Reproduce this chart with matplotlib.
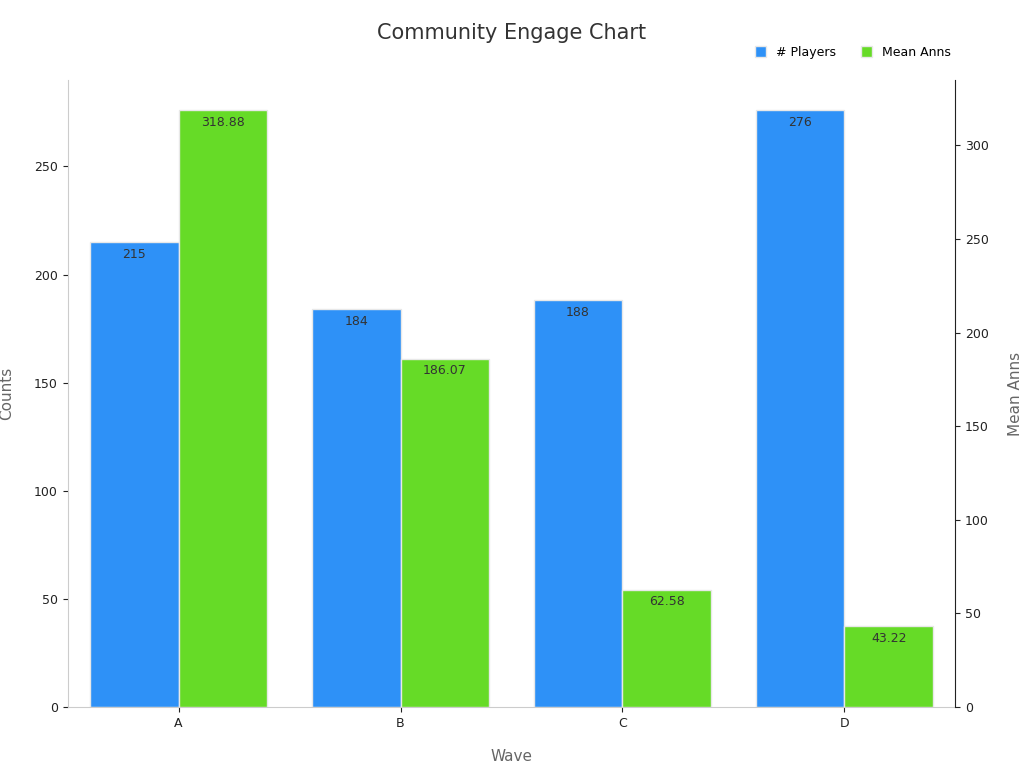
import matplotlib.pyplot as plt
import numpy as np

waves = ["A", "B", "C", "D"]
players = [215, 184, 188, 276]
mean_anns = [318.88, 186.07, 62.58, 43.22]

blue = "#2E91F7"
green = "#66DB27"

fig = plt.figure(figsize=(10.24, 7.68), dpi=100)
ax = fig.add_axes([0.066, 0.0794, 0.867, 0.8166])
ax2 = ax.twinx()

x = np.arange(len(waves))
w = 0.4
b1 = ax.bar(x - w / 2, players, w, color=blue, edgecolor="#e8e8e8", linewidth=1, label="# Players")
b2 = ax2.bar(x + w / 2, mean_anns, w, color=green, edgecolor="#e8e8e8", linewidth=1, label="Mean Anns")

for rect, v in zip(b1, players):
    ax.annotate(f"{v}", (rect.get_x() + rect.get_width() / 2, v), xytext=(0, -4),
                textcoords="offset points", ha="center", va="top", fontsize=9, color="#333333")
for rect, v in zip(b2, mean_anns):
    ax2.annotate(f"{v:.2f}", (rect.get_x() + rect.get_width() / 2, v), xytext=(0, -4),
                 textcoords="offset points", ha="center", va="top", fontsize=9, color="#333333")

ax.set_xlim(-0.5, 3.5)
ax.set_ylim(0, 290)
ax2.set_ylim(0, 335)
ax.set_xticks(x)
ax.set_xticklabels(waves)
ax.set_yticks([0, 50, 100, 150, 200, 250])
ax2.set_yticks([0, 50, 100, 150, 200, 250, 300])

for a in (ax, ax2):
    a.spines["top"].set_visible(False)
    a.tick_params(labelsize=9, colors="#222222")
ax.spines["left"].set_color("#cccccc")
ax.spines["bottom"].set_color("#cccccc")
ax.spines["right"].set_visible(False)
ax2.spines["left"].set_visible(False)
ax2.spines["bottom"].set_visible(False)
ax2.spines["right"].set_color("#222222")

ax.set_xlabel("Wave", fontsize=11, color="#666666", labelpad=14)
ax.set_ylabel("Counts", fontsize=11, color="#666666", labelpad=14)
ax2.set_ylabel("Mean Anns", fontsize=11, color="#666666", labelpad=14)

fig.suptitle("Community Engage Chart", fontsize=15, color="#333333", y=0.97)
fig.legend(handles=[b1, b2], loc="upper right", bbox_to_anchor=(0.94, 0.955), ncol=2,
           frameon=False, fontsize=9, handlelength=0.9, handleheight=0.9, columnspacing=2)

fig.savefig("out.png", dpi=100)
